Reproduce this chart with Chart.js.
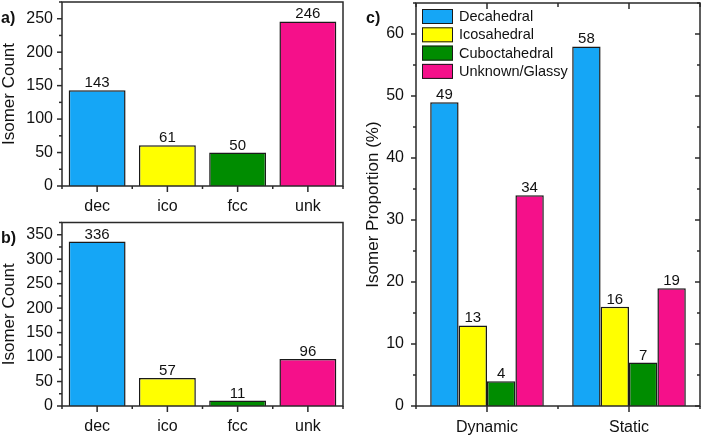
<!DOCTYPE html>
<html><head><meta charset="utf-8">
<script src="https://cdn.jsdelivr.net/npm/chart.js@4"></script>
<style>
body{margin:0;background:#fff;width:702px;height:436px;position:relative;overflow:hidden;font-family:"Liberation Sans",Arial,sans-serif}
canvas{position:absolute}
.lbl{position:absolute;font-weight:bold;font-size:16px;color:#111;line-height:1}
</style></head><body>
<canvas id="ca" width="350" height="226" style="left:0;top:0"></canvas>
<canvas id="cb" width="350" height="220" style="left:0;top:216px"></canvas>
<canvas id="cc" width="352" height="436" style="left:350px;top:0"></canvas>
<div class="lbl" style="left:1px;top:10px">a)</div>
<div class="lbl" style="left:1px;top:230px">b)</div>
<div class="lbl" style="left:366px;top:10px">c)</div>
<script>
// ---- data ----
const categories = ['dec', 'ico', 'fcc', 'unk'];
const countsA = [143, 61, 50, 246];
const countsB = [336, 57, 11, 96];
const groups = ['Dynamic', 'Static'];
const seriesNames = ['Decahedral', 'Icosahedral', 'Cuboctahedral', 'Unknown/Glassy'];
const decahedral = [49, 58];
const icosahedral = [13, 16];
const cuboctahedral = [4, 7];
const unknownGlassy = [34, 19];

// ---- styles ----
const colors = ['#15A6F6', '#FFFF00', '#008C00', '#F5108A'];
const FONT = '"Liberation Sans", Arial, sans-serif';
const INK = '#1a1a1a';
Chart.defaults.font.family = FONT;
Chart.defaults.color = '#111';

const framePlugin = {
  id: 'frame',
  afterDraw(chart, args, o) {
    const {ctx, chartArea: a, scales} = chart;
    const x = scales.x, y = scales.y;
    ctx.save();
    ctx.strokeStyle = '#2a2a2a';
    ctx.lineWidth = 1.5;
    const line = (x1, y1, x2, y2) => { ctx.beginPath(); ctx.moveTo(x1, y1); ctx.lineTo(x2, y2); ctx.stroke(); };
    ctx.strokeRect(a.left, a.top, a.right - a.left, a.bottom - a.top);
    for (let v = y.min; v <= y.max + 1e-9; v += o.minor) {
      const py = y.getPixelForValue(v);
      const major = Math.abs(v % o.major) < 1e-9;
      const len = major ? 5 : 3;
      line(a.left - len, py, a.left, py);
      if (o.right) line(a.right, py, a.right - len, py);
    }
    const n = chart.data.labels.length;
    for (let i = 0; i < n; i++) {
      const px = x.getPixelForValue(i);
      line(px, a.bottom, px, a.bottom + 6);
      if (o.top) line(px, a.top, px, a.top + 6);
    }
    for (let i = 0; i <= n; i++) {
      const px = x.getPixelForValue(i - 0.5);
      line(px, a.bottom, px, a.bottom + 3);
      if (o.top) line(px, a.top, px, a.top + 4);
    }
    ctx.restore();
  }
};

const valueLabels = {
  id: 'valueLabels',
  afterDatasetsDraw(chart) {
    const ctx = chart.ctx;
    ctx.save();
    ctx.font = '15px ' + FONT;
    ctx.fillStyle = '#111';
    ctx.textAlign = 'center';
    ctx.textBaseline = 'alphabetic';
    chart.data.datasets.forEach((ds, di) => {
      chart.getDatasetMeta(di).data.forEach((bar, i) => {
        ctx.fillText(String(ds.data[i]), bar.x, bar.y - 3);
      });
    });
    ctx.restore();
  }
};

const boxLegend = {
  id: 'boxLegend',
  afterDraw(chart) {
    const {ctx, chartArea: a} = chart;
    ctx.save();
    ctx.font = '14.5px ' + FONT;
    ctx.textBaseline = 'middle';
    ctx.textAlign = 'left';
    chart.data.datasets.forEach((ds, i) => {
      const bx = a.left + 6, by = a.top + 6 + i * 18.3;
      ctx.fillStyle = ds.backgroundColor;
      ctx.fillRect(bx, by, 31, 15);
      ctx.strokeStyle = INK; ctx.lineWidth = 1;
      ctx.strokeRect(bx + 0.5, by + 0.5, 30, 14);
      ctx.fillStyle = '#111';
      ctx.fillText(ds.label, bx + 37, by + 8);
    });
    ctx.restore();
  }
};

function yAxis(max, step, width, title, pad, titlePad) {
  return {
    min: 0, max: max,
    grid: {display: false, drawTicks: false}, border: {display: false},
    ticks: {stepSize: step, padding: pad, font: {size: 16}, color: '#111'},
    afterBuildTicks: s => {
      const t = [];
      for (let v = 0; v <= max + 1e-9; v += step) t.push({value: v});
      s.ticks = t;
    },
    afterFit: s => { s.width = width; s.paddingTop = 0; s.paddingBottom = 0; },
    title: {display: true, text: title, font: {size: 17}, color: '#111', padding: {top: titlePad, bottom: 0}}
  };
}
function xAxis(height, pad) {
  return {
    grid: {display: false, drawTicks: false}, border: {display: false},
    ticks: {padding: pad, font: {size: 16}, color: '#111', maxRotation: 0},
    afterFit: s => { s.height = height; s.paddingLeft = 0; s.paddingRight = 0; }
  };
}

function countChart(id, values, max, top, h) {
  return new Chart(document.getElementById(id), {
    type: 'bar',
    data: {
      labels: categories,
      datasets: [{
        data: values,
        backgroundColor: colors,
        borderColor: INK,
        borderWidth: 1.5,
        categoryPercentage: 1.0,
        barPercentage: 0.81
      }]
    },
    options: {
      responsive: false, animation: false, devicePixelRatio: 1,
      layout: {padding: {left: 0, top: top, right: 7, bottom: 0}},
      plugins: {legend: {display: false}, tooltip: {enabled: false},
        frame: {major: 50, minor: 25, right: false, top: false}},
      scales: {x: xAxis(h, 11), y: yAxis(max, 50, 62, 'Isomer Count', 9, -1)}
    },
    plugins: [framePlugin, valueLabels]
  });
}

countChart('ca', countsA, 275, 2, 40);
countChart('cb', countsB, 375, 6.5, 30);

const seriesValues = [decahedral, icosahedral, cuboctahedral, unknownGlassy];
new Chart(document.getElementById('cc'), {
  type: 'bar',
  data: {
    labels: groups,
    datasets: seriesNames.map((name, i) => ({
      label: name,
      data: seriesValues[i],
      backgroundColor: colors[i],
      borderColor: INK,
      borderWidth: 1.5,
      categoryPercentage: 0.8,
      barPercentage: 1.0
    }))
  },
  options: {
    responsive: false, animation: false, devicePixelRatio: 1,
    layout: {padding: {left: 0, top: 3, right: 2, bottom: 0}},
    plugins: {legend: {display: false}, tooltip: {enabled: false},
      frame: {major: 10, minor: 5, right: true, top: true}},
    scales: {x: xAxis(30, 12), y: yAxis(65, 10, 66, 'Isomer Proportion (%)', 12, 13)}
  },
  plugins: [framePlugin, valueLabels, boxLegend]
});
</script>
</body></html>
